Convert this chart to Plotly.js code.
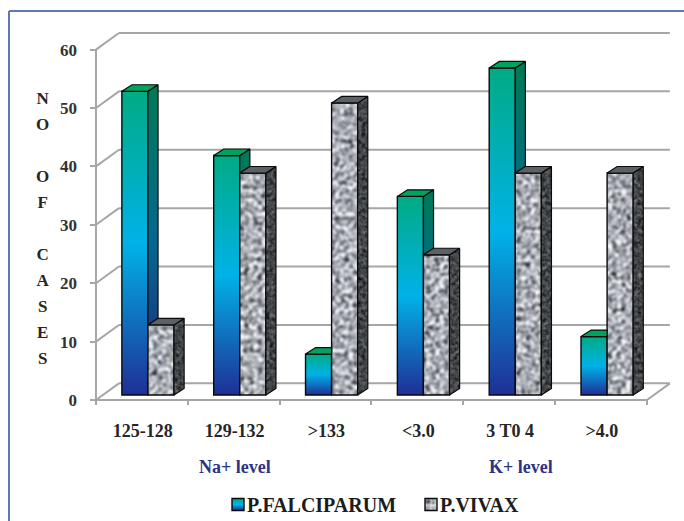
<!DOCTYPE html>
<html><head><meta charset="utf-8">
<script src="https://cdn.plot.ly/plotly-3.0.1.min.js"></script>
<style>html,body{margin:0;padding:0;background:#fff}</style></head>
<body>
<svg width="0" height="0" style="position:absolute">
<defs>
<linearGradient id="gradFront" x1="0" y1="0" x2="0" y2="1">
<stop offset="0" stop-color="#00ab84"/><stop offset="0.5" stop-color="#00b2e8"/><stop offset="1" stop-color="#1f2f96"/>
</linearGradient>
<filter id="noise" x="0" y="0" width="100%" height="100%" color-interpolation-filters="sRGB">
<feTurbulence type="fractalNoise" baseFrequency="0.22" numOctaves="3" seed="7"/>
<feColorMatrix type="matrix" values="0.95 0.95 0.95 0 -0.76  0.95 0.95 0.95 0 -0.75  0.95 0.95 0.95 0 -0.72  0 0 0 0 1"/>
<feGaussianBlur stdDeviation="0.8"/>
</filter>
<filter id="noiseDark" x="0" y="0" width="100%" height="100%" color-interpolation-filters="sRGB">
<feTurbulence type="fractalNoise" baseFrequency="0.25" numOctaves="2" seed="11"/>
<feColorMatrix type="matrix" values="0.3 0.3 0.3 0 -0.19  0.3 0.3 0.3 0 -0.18  0.3 0.3 0.3 0 -0.17  0 0 0 0 1"/>
<feGaussianBlur stdDeviation="0.7"/>
</filter>
<pattern id="granite" patternUnits="userSpaceOnUse" width="300" height="450">
<rect width="300" height="450" filter="url(#noise)"/>
</pattern>
<pattern id="graniteDark" patternUnits="userSpaceOnUse" width="700" height="450">
<rect width="700" height="450" filter="url(#noiseDark)"/>
</pattern>
</defs>
</svg>
<div id="chart" style="width:684px;height:521px"></div>
<script>
const categories = ['125-128','129-132','>133','<3.0','3 T0 4','>4.0'];
const falciparum = [52,41,7,34,56,10];
const vivax = [12,38,50,24,38,38];
const yTicks = [0,10,20,30,40,50,60];
const yLetters = ['N','O',' ','O','F',' ','C','A','S','E','S'];
const W=684,H=521,L=90,R=5,T=26,B=116;
const wallDx=0.25, wallDy=2.85, barDx=0.11, barDy=1.12, baseY=0.86, groupOffset=0.566, barW=0.284;
const px=x=>(x-L)/(W-L-R), py=y=>(H-B-y)/(H-T-B);
const traces=[];
const frontGrad={type:'vertical',colorscale:[[0,'#22247c'],[0.5,'#04688f'],[1,'#007a55']]};
function face(xs,ys,color,grad){
  const t={type:'scatter',mode:'lines',x:xs,y:ys,fill:'toself',line:{color:'#0a0a0a',width:1.2},showlegend:false,hoverinfo:'skip'};
  if(grad){t.fillgradient=grad;} else {t.fillcolor=color;}
  traces.push(t);
}
traces.push({type:'bar',name:'P.FALCIPARUM',x:categories.map((c,i)=>i+groupOffset),y:falciparum,base:baseY,marker:{color:'#00b2e8',line:{color:'#0a0a0a',width:1.4}},hoverinfo:'skip'});
traces.push({type:'bar',name:'P.VIVAX',x:categories.map((c,i)=>i+groupOffset),y:vivax,base:baseY,marker:{color:'#9a9ea3',line:{color:'#0a0a0a',width:1.4}},hoverinfo:'skip'});
categories.forEach((c,i)=>{
  const xl=i+groupOffset-barW, xm=i+groupOffset, xr=i+groupOffset+barW;
  const f=falciparum[i]+baseY, v=vivax[i]+baseY;
  if(v<f){
    face([xm,xm+barDx,xm+barDx,xm,xm],[v,v+barDy,f+barDy,f,v],null,
      Object.assign({start:baseY,stop:f+barDy},frontGrad));
    face([xl,xm,xm+barDx,xl+barDx,xl],[f,f,f+barDy,f+barDy,f],'#00a25e');
  } else {
    face([xl,xm,xm,xl+barDx,xl],[f,f,f+barDy,f+barDy,f],'#00a25e');
  }
  face([xr,xr+barDx,xr+barDx,xr,xr],[baseY,baseY+barDy,v+barDy,v,baseY],'#43484c');
  face([xm,xr,xr+barDx,xm+barDx,xm],[v,v,v+barDy,v+barDy,v],'#5c6166');
});
const wall={color:'#a6a6a6',width:2};
const shapes=[];
const ln=(x0,y0,x1,y1)=>shapes.push({type:'line',layer:'below',xref:'x',yref:'y',x0,y0,x1,y1,line:wall});
yTicks.forEach(v=>{
  ln(0,v,wallDx,v+wallDy);
  ln(wallDx,v+wallDy,categories.length+wallDx,v+wallDy);
});
ln(0,0,0,60);
ln(0,0,categories.length,0);
ln(categories.length,0,categories.length+wallDx,wallDy);
const border={color:'#5a7ab8',width:2};
shapes.push({type:'line',xref:'paper',yref:'paper',x0:px(9),y0:py(11),x1:px(W),y1:py(11),line:border});
shapes.push({type:'line',xref:'paper',yref:'paper',x0:px(9),y0:py(11),x1:px(9),y1:py(H),line:border});
const serif='"Liberation Serif", serif';
const layout={
  width:W,height:H,margin:{l:L,r:R,t:T,b:B,pad:0,autoexpand:false},
  paper_bgcolor:'#fff',plot_bgcolor:'rgba(0,0,0,0)',
  barmode:'group',bargap:0.432,bargroupgap:0,
  font:{family:serif,color:'#262626'},
  xaxis:{range:[-0.065,6.349],tickmode:'array',tickvals:categories.map((c,i)=>i+0.51),ticktext:categories,
    ticks:'',showgrid:false,zeroline:false,showline:false,ticklabelstandoff:13,automargin:false,
    tickfont:{family:serif,size:18,color:'#262626',weight:'bold'},
    minor:{tickmode:'array',tickvals:[0,1,2,3,4,5,6],ticks:'inside',ticklen:5,tickwidth:2,tickcolor:'#a6a6a6',showgrid:false}},
  yaxis:{range:[-0.856,64.04],tickmode:'array',tickvals:yTicks,ticks:'inside',ticklen:6,tickwidth:2,tickcolor:'#a6a6a6',
    showgrid:false,zeroline:false,showline:false,ticklabelstandoff:12,automargin:false,
    tickfont:{family:serif,size:17,color:'#333',weight:'bold'}},
  shapes,
  annotations:[
    {xref:'paper',yref:'paper',x:px(42),y:py(228),showarrow:false,xanchor:'center',yanchor:'middle',
     font:{family:serif,size:20,color:'#262626',weight:'bold'},
     text:yLetters.map(s=>'<span style="font-size:17px">'+(s===' '?'&nbsp;':s)+'</span>').join('<br>')},
    {xref:'paper',yref:'paper',x:px(235),y:py(467),xanchor:'center',yanchor:'middle',showarrow:false,text:'Na+ level',font:{family:serif,size:18,color:'#2e3384',weight:'bold'}},
    {xref:'paper',yref:'paper',x:px(521),y:py(467),xanchor:'center',yanchor:'middle',showarrow:false,text:'K+ level',font:{family:serif,size:18,color:'#2e3384',weight:'bold'}}
  ],
  showlegend:true,
  legend:{orientation:'h',x:px(207),y:py(485),xanchor:'left',yanchor:'top',bgcolor:'rgba(0,0,0,0)',
    font:{family:serif,size:20,color:'#1c1c1c',weight:'bold'},traceorder:'normal',entrywidth:148,entrywidthmode:'pixels'}
};
Plotly.newPlot('chart',traces,layout,{staticPlot:true,displayModeBar:false}).then(gd=>{
  const bars=gd.querySelectorAll('.barlayer .trace');
  bars[0].querySelectorAll('path').forEach(p=>p.style.fill='url(#gradFront)');
  bars[1].querySelectorAll('path').forEach(p=>p.style.fill='url(#granite)');
  gd.querySelectorAll('.scatterlayer .js-fill').forEach(p=>{
    if(p.style.fill==='rgb(67, 72, 76)'){p.style.fill='url(#graniteDark)';}
  });
  const leg=gd.querySelectorAll('.legend .traces');
  leg.forEach((g,i)=>{
    const pts=g.querySelector('.legendpoints');
    pts.setAttribute('transform','translate(11,0)');
    pts.querySelectorAll('path').forEach(p=>{p.style.fill=i?'url(#granite)':'url(#gradFront)';});
  });
});
</script>
</body></html>
